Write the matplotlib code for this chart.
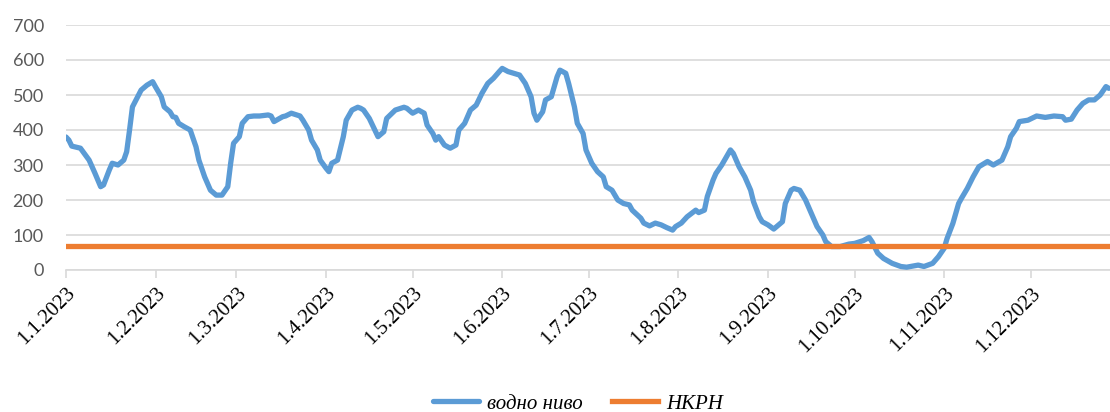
import numpy as np
import pandas as pd
import matplotlib
matplotlib.use('Agg')
import matplotlib.pyplot as plt

plt.rcParams['font.family'] = ['Liberation Serif', 'DejaVu Serif']

# day offsets from 1.1.2023 and water level readings
days = [0, 1, 2, 5, 8, 10, 12, 13, 15, 16, 18, 20, 21, 22, 23, 26, 28, 30, 31, 33,
        34, 36, 37, 38, 39, 41, 43, 45, 46, 48, 50, 52, 54, 56, 57, 58, 60, 61, 63, 65,
        67, 70, 71, 72, 75, 76, 78, 81, 82, 84, 85, 87, 88, 90, 91, 92, 94, 96, 97, 99,
        101, 102, 103, 105, 108, 110, 111, 114, 117, 118, 120, 122, 124, 125, 127, 128, 129, 131, 133, 135,
        136, 138, 140, 142, 144, 146, 148, 150, 151, 153, 155, 157, 159, 161, 162, 163, 165, 166, 168, 170,
        171, 173, 174, 176, 177, 179, 180, 182, 184, 186, 187, 189, 191, 193, 195, 196, 199, 200, 202, 204,
        206, 208, 210, 211, 213, 215, 218, 219, 221, 222, 224, 225, 227, 230, 231, 233, 235, 237, 238, 240,
        241, 243, 245, 246, 248, 249, 251, 252, 254, 256, 258, 260, 262, 263, 265, 268, 271, 273, 276, 278,
        279, 281, 283, 286, 289, 291, 295, 297, 300, 302, 304, 305, 307, 309, 310, 312, 314, 316, 319, 321,
        324, 326, 327, 329, 330, 333, 336, 339, 342, 345, 346, 348, 350, 352, 354, 356, 358, 360, 361]
level = [380, 371, 354, 348, 314, 277, 238, 243, 286, 305, 300, 314, 338, 400, 466, 514, 528, 538, 523, 495,
         466, 452, 438, 436, 419, 409, 400, 352, 314, 266, 228, 214, 214, 238, 305, 362, 381, 419, 438, 440,
         440, 443, 440, 424, 438, 440, 448, 440, 428, 400, 371, 343, 314, 291, 281, 305, 314, 381, 428, 457,
         465, 462, 457, 433, 381, 395, 433, 457, 465, 462, 448, 457, 448, 414, 390, 371, 381, 357, 348, 357,
         400, 419, 457, 471, 505, 533, 548, 567, 576, 567, 562, 557, 533, 495, 448, 428, 452, 486, 495, 552,
         571, 562, 533, 466, 419, 390, 343, 305, 281, 266, 238, 228, 200, 190, 186, 171, 148, 134, 126, 134,
         129, 121, 114, 124, 134, 152, 171, 164, 171, 210, 257, 276, 300, 343, 333, 295, 266, 228, 195, 152,
         138, 129, 117, 124, 138, 190, 228, 233, 228, 200, 162, 124, 100, 81, 67, 67, 74, 76, 84, 93,
         81, 48, 33, 19, 10, 8, 14, 10, 19, 38, 62, 90, 133, 190, 205, 233, 266, 295, 310, 300,
         314, 352, 381, 405, 424, 428, 440, 436, 440, 438, 428, 431, 457, 476, 486, 486, 500, 524, 519]
nkrn = 68

month_days = [0, 31, 59, 90, 120, 151, 181, 212, 243, 273, 304, 334]
month_labels = ['1.%d.2023' % m for m in range(1, 13)]
y_ticks = list(range(0, 701, 100))

fig = plt.figure(figsize=(11.1, 4.12), dpi=100)
ax = fig.add_axes([66/1110, 1 - 270/412, 1 - 66/1110, 245/412])

l1, = ax.plot(days, level, color='#5B9BD5', lw=3.8, solid_capstyle='round', zorder=3)
l2 = ax.axhline(nkrn, color='#ED7D31', lw=3.8, zorder=4)

ax.set_xlim(0, 361.4)
ax.set_ylim(0, 700)
ax.grid(axis='y', color='#D9D9D9', lw=1.2)
ax.set_axisbelow(True)
for s in ['top', 'right', 'left']:
    ax.spines[s].set_visible(False)
ax.spines['bottom'].set_color('#D9D9D9')
ax.spines['bottom'].set_linewidth(1.2)

ax.tick_params(axis='x', length=6, color='#D9D9D9', width=1.2, pad=4)
ax.tick_params(axis='y', length=0, pad=16)
ax.set_xticks(month_days)
ax.set_xticklabels(month_labels, fontsize=15, rotation=45,
                   rotation_mode='anchor', ha='right', va='top')
ax.set_yticks(y_ticks)
ax.set_yticklabels([str(v) for v in y_ticks], fontfamily='Lato',
                   fontsize=13, color='#595959')

fig.legend([l1, l2], ['водно ниво', 'НКРН'], loc='center', bbox_to_anchor=(0.521, 0.02),
           ncol=2, frameon=False, handlelength=2.2, handletextpad=0.4, columnspacing=1.4,
           prop={'style': 'italic', 'size': 15})

fig.savefig('out.png', dpi=100)
